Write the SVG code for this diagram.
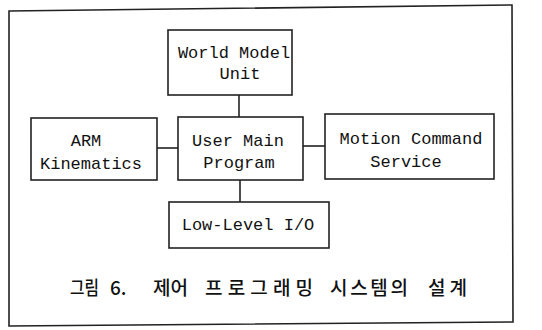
<svg xmlns="http://www.w3.org/2000/svg" width="542" height="330" viewBox="0 0 542 330">
<style>
.box{fill:#fff;stroke:#222;stroke-width:1.6}
.t{font-family:"Liberation Mono","DejaVu Sans Mono",monospace;font-size:17px;fill:#111;text-anchor:middle}
.c{stroke:#222;stroke-width:1.6;fill:none}
.cap{font-family:"Noto Sans CJK KR","Liberation Sans",sans-serif;font-size:19px;font-weight:500;fill:#111}
</style>
<rect width="542" height="330" fill="#fff"/>
<path class="c" d="M9,11 L512,5 L513,322 L9,326 Z"/>
<g id="connectors">
<line class="c" x1="239" y1="95" x2="239" y2="117"/>
<line class="c" x1="157" y1="148" x2="178" y2="148"/>
<line class="c" x1="303" y1="146" x2="325" y2="146"/>
<line class="c" x1="240" y1="180" x2="240" y2="202"/>
</g>
<g id="world">
<rect class="box" x="168" y="30" width="124" height="65"/>
<text class="t" x="234" y="58">World Model</text>
<text class="t" x="240" y="79">Unit</text>
</g>
<g id="arm">
<rect class="box" x="31" y="118" width="126" height="62"/>
<text class="t" x="86" y="146">ARM</text>
<text class="t" x="91" y="169">Kinematics</text>
</g>
<g id="user">
<rect class="box" x="178" y="117" width="125" height="63"/>
<text class="t" x="238" y="146">User Main</text>
<text class="t" x="239" y="168">Program</text>
</g>
<g id="motion">
<rect class="box" x="325" y="114" width="169" height="65"/>
<text class="t" x="411" y="144">Motion Command</text>
<text class="t" x="406" y="167">Service</text>
</g>
<g id="lowlevel">
<rect class="box" x="169" y="202" width="160" height="46"/>
<text class="t" x="248" y="230">Low-Level I/O</text>
</g>
<text class="cap" y="295"><tspan x="70" textLength="29" lengthAdjust="spacingAndGlyphs">그림</tspan> <tspan x="110">6.</tspan> <tspan x="153" textLength="35" lengthAdjust="spacingAndGlyphs">제어</tspan> <tspan x="205" textLength="108" lengthAdjust="spacing">프로그래밍</tspan> <tspan x="330" textLength="78" lengthAdjust="spacing">시스템의</tspan> <tspan x="428" textLength="39" lengthAdjust="spacing">설계</tspan></text>
</svg>
